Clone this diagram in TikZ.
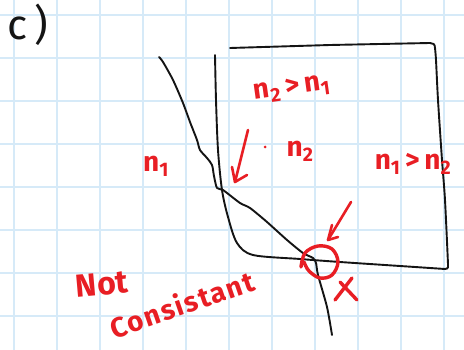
\documentclass[tikz,border=0pt]{standalone}
\usepackage{fontspec}
\setmainfont{Fira Sans}
\definecolor{gridblue}{RGB}{214,234,248}
\definecolor{ink}{RGB}{20,20,20}
\definecolor{pen}{RGB}{232,30,36}
\begin{document}
\begin{tikzpicture}[x=1pt,y=-1pt,
  sketch/.style={draw=ink,line width=1.9pt,line cap=round,line join=round},
  redpen/.style={draw=pen,line width=2.6pt,line cap=round,line join=round},
  redtext/.style={text=pen,inner sep=0pt,font=\bfseries\fontsize{28}{28}\selectfont},
  gridline/.style={draw=gridblue,line width=1.6pt}]
\useasboundingbox (0,0) rectangle (464,350);
\fill[white] (0,0) rectangle (464,350);
% grid
\foreach \gx in {14,57,100,143,186,229,272,315,358,401,444} \draw[gridline] (\gx,0) -- (\gx,350);
\foreach \gy in {15,58,101,144,187,230,273,316} \draw[gridline] (0,\gy) -- (464,\gy);
% label c)
\node[text=ink,inner sep=0pt,font=\fontsize{42}{42}\selectfont] (lab) at (28,25) {c\,)};
% boundary curve
\draw[sketch] plot[smooth,tension=0.45] coordinates {(159,57) (163,62) (173,80) (183,103) (190,122) (197,140) (200,150) (207,158) (212,165) (214,176) (217,188) (223,190) (240,203) (250,208) (267,222) (287,240) (303,253) (313,258) (316,263) (318,275) (327,307) (332,335)};
% box: left/bottom
\draw[sketch] plot[smooth,tension=0.5] coordinates {(215,55) (216,100) (218,150) (222,190) (228,217) (237,243) (253,255) (300,259) (340,262) (400,266) (445,269)};
\draw[sketch] (445,269) .. controls (449,269) and (448,266) .. (448,264);
\draw[sketch] plot[smooth,tension=0.5] coordinates {(448,264) (445,200) (442,160) (438,100) (436,60) (435,48)};
\draw[sketch] (435,48) .. controls (435,44) and (433,43) .. (430,43);
\draw[sketch] (430,43) -- (330,45) -- (230,48);
% red labels
\node[redtext,rotate=8] (n2gt) at (292,89) {n\textsubscript{2}\,>\,n\textsubscript{1}};
\node[redtext] (n1) at (156,166) {n\textsubscript{1}};
\fill[pen] (265,147) circle (1.5pt);
\node[redtext] (n2) at (300,151) {n\textsubscript{2}};
\node[redtext] (n1gt) at (413,164) {n\textsubscript{1}\,>\,n\textsubscript{2}};
\node[redtext,rotate=5,font=\bfseries\fontsize{32}{32}\selectfont] (not) at (102,284) {Not};
\node[redtext,rotate=19,font=\bfseries\fontsize{28}{28}\selectfont\addfontfeatures{LetterSpace=6}] (cons) at (182,304) {Consistant};
% red arrows
\draw[redpen] (248,130) -- (235,182);
\draw[redpen] (232,167) -- (235,182) -- (247,175);
\draw[redpen] (351,202) -- (328,240);
\draw[redpen] (332,225) -- (328,240) -- (338,237);
% circle
\draw[redpen,line width=3.4pt] plot[smooth,tension=0.6] coordinates {(301,267) (305,253) (318,246) (332,249) (338,262) (332,275) (320,278) (309,271) (304,262)};
% cross
\draw[redpen,line width=3.4pt] (340,282) -- (357,300);
\draw[redpen,line width=3.4pt] (352,278) -- (335,300);
\end{tikzpicture}
\end{document}
